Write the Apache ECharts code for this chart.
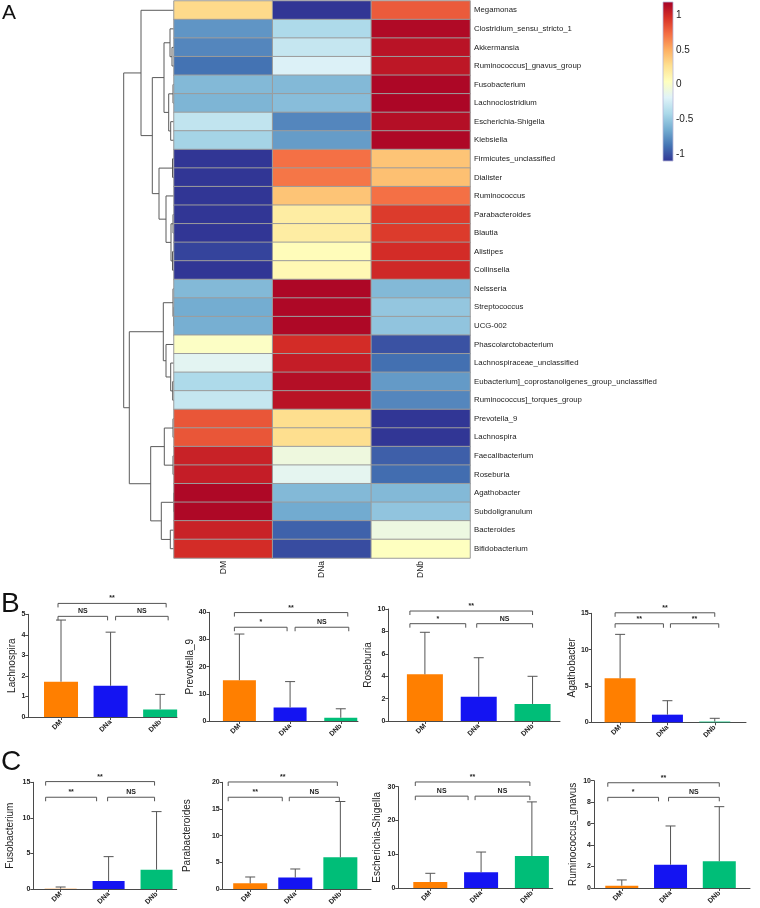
<!DOCTYPE html>
<html><head><meta charset="utf-8">
<script src="https://cdn.jsdelivr.net/npm/echarts@6/dist/echarts.min.js"></script>
<style>html,body{margin:0;padding:0;background:#fff}#c{width:760px;height:908px}</style>
</head><body><div id="c"></div>
<script>
// ---------- Panel A data ----------
const genera = ['Megamonas','Clostridium_sensu_stricto_1','Akkermansia','Ruminococcus]_gnavus_group','Fusobacterium','Lachnoclostridium','Escherichia-Shigella','Klebsiella','Firmicutes_unclassified','Dialister','Ruminococcus','Parabacteroides','Blautia','Alistipes','Collinsella','Neisseria','Streptococcus','UCG-002','Phascolarctobacterium','Lachnospiraceae_unclassified','Eubacterium]_coprostanoligenes_group_unclassified','Ruminococcus]_torques_group','Prevotella_9','Lachnospira','Faecalibacterium','Roseburia','Agathobacter','Subdoligranulum','Bacteroides','Bifidobacterium'];
const groups = ['DM','DNa','DNb'];
const zDM  = [0.30,-0.74,-0.80,-0.88,-0.58,-0.60,-0.32,-0.44,-1.12,-1.12,-1.12,-1.10,-1.10,-1.05,-1.10,-0.58,-0.64,-0.63,0.02,-0.16,-0.40,-0.30,0.82,0.82,1.03,1.05,1.15,1.15,1.03,0.98];
const zDNa = [-1.10,-0.40,-0.30,-0.20,-0.58,-0.56,-0.80,-0.71,0.72,0.70,0.40,0.18,0.18,0.07,0.10,1.155,1.15,1.15,0.98,1.05,1.12,1.10,0.28,0.28,-0.08,-0.15,-0.58,-0.65,-0.94,-1.02];
const zDNb = [0.80,1.14,1.10,1.08,1.155,1.16,1.12,1.15,0.40,0.42,0.72,0.92,0.92,0.98,1.00,-0.58,-0.51,-0.52,-1.00,-0.89,-0.72,-0.80,-1.10,-1.10,-0.95,-0.90,-0.58,-0.52,-0.09,0.04];
const zMin = -1.1, zMax = 1.19;
const colorbarTicks = [-1,-0.5,0,0.5,1];
// hclust-style merges: negative = leaf row (-(row+1)), positive = earlier merge (1-based); third = height
const dendroMerges = [
 [-3,-4,2],[-2,1,4],[-5,-6,1],[-7,-8,3.3],[3,4,5.3],[2,5,10],
 [-9,-10,1.5],[-12,-13,1],[-14,-15,1.5],[8,9,3],[-11,10,8],[7,11,15],
 [6,12,21.7],[-1,13,33],
 [-17,-18,0.5],[-16,15,1],[-21,-22,1.3],[-20,17,3.3],[-19,18,8],[16,19,10.7],
 [-23,-24,1],[-25,-26,1],[21,22,9.7],[-27,-28,0.5],[-29,-30,3.7],[24,25,12.7],
 [23,26,23.3],[20,27,44.7],[14,28,50.3]
];

// ---------- Panels B / C data ----------
const barTitles = ['Lachnospira','Prevotella_9','Roseburia','Agathobacter','Fusobacterium','Parabacteroides','Escherichia-Shigella','Ruminococcus_gnavus'];
const meanDM  = [1.72,15.0,4.17,6.05,0.05,1.06,1.78,0.21];
const meanDNa = [1.52,5.0,2.17,1.05,1.12,2.15,4.64,2.17];
const meanDNb = [0.37,1.2,1.52,0.10,2.72,5.94,9.47,2.49];
const upperDM  = [4.72,32.0,7.92,12.1,0.28,2.25,4.35,0.75];
const upperDNa = [4.13,14.5,5.65,2.97,4.55,3.75,10.65,5.78];
const upperDNb = [1.10,4.5,3.99,0.55,10.88,16.4,25.5,7.58];
const yMax  = [5,40,10,15,15,20,30,10];
const yStep = [1,10,2,5,5,5,10,2];
const sigOuter = ['**','**','**','**','**','**','**','**'];
const sigLeft  = ['NS','*','*','**','**','**','NS','*'];
const sigRight = ['NS','NS','NS','**','NS','NS','NS','NS'];
const bracketTop = [5.53,39.9,9.82,15.07,15.1,20.06,31.4,9.81];
const bracketLow = [4.9,34.5,8.69,13.56,12.9,17.2,27.2,8.45];

// ---------- layout / style ----------
const barColors = ['#FF7F00','#1414F2','#00BE78'];
const heatColors = ['#313695','#4575B4','#74ADD1','#ABD9E9','#E0F3F8','#FFFFBF','#FEE090','#FDAE61','#F46D43','#D73027','#A50026'];
const barLayout = [
 {l:28.3,w:148.7,t:614.3,h:102.7,xmin:-0.66,xmax:2.34,bw:34,gap:9.5,off:[-3,6,-3,5,8]},
 {l:209.5,w:148.5,t:612.3,h:108.7,xmin:-0.59,xmax:2.34,bw:33,gap:9,off:[-5,7,-3,5,8]},
 {l:388.3,w:171.7,t:609,h:112,xmin:-0.68,xmax:2.51,bw:36,gap:12,off:[-15,0,-13,-2,0]},
 {l:591.7,w:154.3,t:613.3,h:109,xmin:-0.6,xmax:2.66,bw:31,gap:14,off:[-5,0,-4,3,4]},
 {l:33.3,w:143.4,t:782.3,h:106.7,xmin:-0.57,xmax:2.42,bw:32,gap:18,off:[-15,-2,-12,-1,-2]},
 {l:222.7,w:148.3,t:782.3,h:106.7,xmin:-0.61,xmax:2.68,bw:34,gap:30,off:[-22,-3,-13,-6,-1]},
 {l:398.3,w:154.4,t:786.7,h:101.3,xmin:-0.63,xmax:2.41,bw:34,gap:16,off:[-15,-2,-13,-6,-2]},
 {l:594,w:156,t:780.7,h:107.3,xmin:-0.57,xmax:2.63,bw:33,gap:16,off:[-14,0,-12,-2,0]}
];
const FONT = 'Liberation Sans, Arial, sans-serif';

// dendrogram node positions
const nodes = [];
function nodeInfo(ref){ return ref < 0 ? {y: -ref-1, h: 0} : nodes[ref-1]; }
dendroMerges.forEach(m => { const a = nodeInfo(m[0]), b = nodeInfo(m[1]); nodes.push({y:(a.y+b.y)/2, h:m[2], a, b}); });
const dendroData = nodes.map(n => [n.a.h, n.a.y, n.b.h, n.b.y, n.h]);

const heatData = [];
genera.forEach((g, r) => { [zDM, zDNa, zDNb].forEach((arr, c) => heatData.push([c, r, arr[r]])); });

const grids = [
 {left:110, top:1, width:64, height:557},
 {left:174, top:1, width:296, height:557},
 {left:663, top:2, width:10, height:159}
];
const xAxes = [
 {gridIndex:0, type:'value', min:0, max:64, inverse:true, show:false},
 {gridIndex:1, type:'category', data:groups, axisLine:{show:false}, axisTick:{show:false},
  axisLabel:{rotate:90, fontSize:8.5, color:'#222', fontFamily:FONT, margin:3}},
 {gridIndex:2, type:'value', min:0, max:1, show:false}
];
const yAxes = [
 {gridIndex:0, type:'value', min:-0.5, max:29.5, inverse:true, show:false},
 {gridIndex:1, type:'category', data:genera, inverse:true, position:'right', axisLine:{show:false}, axisTick:{show:false},
  axisLabel:{fontSize:7.8, color:'#222', fontFamily:FONT, margin:4}},
 {gridIndex:2, type:'value', min:zMin, max:zMax, position:'right', axisLine:{show:false}, axisTick:{show:false}, splitLine:{show:false},
  axisLabel:{customValues:colorbarTicks, formatter:v=>String(v), fontSize:10, color:'#222', fontFamily:FONT, margin:3}}
];
const series = [
 {type:'custom', xAxisIndex:0, yAxisIndex:0, data:dendroData, clip:false, silent:true,
  renderItem:(p, api) => {
    const ah = api.value(0), ay = api.value(1), bh = api.value(2), by = api.value(3), h = api.value(4);
    const pts = [api.coord([ah, ay]), api.coord([h, ay]), api.coord([h, by]), api.coord([bh, by])];
    return {type:'polyline', shape:{points:pts}, style:{stroke:'#5a5a5a', lineWidth:1, fill:null}};
  }},
 {type:'heatmap', xAxisIndex:1, yAxisIndex:1, data:heatData, silent:true,
  itemStyle:{borderColor:'#9c9c9c', borderWidth:1}},
 {type:'custom', xAxisIndex:2, yAxisIndex:2, data:[[0, zMin, zMax]], clip:false, silent:true,
  renderItem:(p, api) => {
    const p1 = api.coord([0, api.value(2)]), p2 = api.coord([1, api.value(1)]);
    const stops = heatColors.map((c, i) => ({offset: i/(heatColors.length-1), color:c}));
    return {type:'rect', shape:{x:p1[0], y:p1[1], width:p2[0]-p1[0], height:p2[1]-p1[1]},
      style:{fill:new echarts.graphic.LinearGradient(0,1,0,0,stops), stroke:'#b8b8d8', lineWidth:0.8}};
  }}
];

barTitles.forEach((title, k) => {
  const L = barLayout[k];
  const gi = grids.length;
  grids.push({left:L.l, top:L.t, width:L.w, height:L.h});
  xAxes.push({gridIndex:gi, type:'value', min:L.xmin, max:L.xmax, splitLine:{show:false},
    axisLine:{show:true, onZero:false, lineStyle:{color:'#4a4a4a', width:1}},
    axisTick:{show:true, customValues:[0,1,2], length:3, lineStyle:{color:'#4a4a4a'}},
    axisLabel:{customValues:[0,1,2], formatter:v=>groups[v], rotate:45, fontSize:7, fontWeight:'bold', color:'#222', fontFamily:FONT, margin:4}});
  yAxes.push({gridIndex:gi, type:'value', min:0, max:yMax[k], interval:yStep[k], splitLine:{show:false},
    axisLine:{show:true, onZero:false, lineStyle:{color:'#4a4a4a', width:1}},
    axisTick:{show:true, length:3, lineStyle:{color:'#4a4a4a'}},
    axisLabel:{fontSize:7, fontWeight:'bold', color:'#222', fontFamily:FONT, margin:3},
    name:title, nameLocation:'middle', nameGap:L.gap, nameTextStyle:{fontSize:10, color:'#222', fontFamily:FONT}});
  const means = [meanDM[k], meanDNa[k], meanDNb[k]];
  const ups = [upperDM[k], upperDNa[k], upperDNb[k]];
  series.push({type:'bar', xAxisIndex:gi, yAxisIndex:gi, barWidth:L.bw, silent:true,
    data: means.map((m, i) => ({value:[i, m], itemStyle:{color:barColors[i]}}))});
  series.push({type:'custom', xAxisIndex:gi, yAxisIndex:gi, clip:false, silent:true, z:3,
    data: means.map((m, i) => [i, m, ups[i]]),
    renderItem:(p, api) => {
      const a = api.coord([api.value(0), api.value(1)]), b = api.coord([api.value(0), api.value(2)]);
      return {type:'group', children:[
        {type:'line', shape:{x1:a[0], y1:a[1], x2:b[0], y2:b[1]}, style:{stroke:'#555', lineWidth:1}},
        {type:'line', shape:{x1:b[0]-5, y1:b[1], x2:b[0]+5, y2:b[1]}, style:{stroke:'#555', lineWidth:1}}
      ]};
    }});
  const o = L.off;
  const br = [[0,2,bracketTop[k],sigOuter[k],o[0],o[1]],[0,1,bracketLow[k],sigLeft[k],o[0],o[2]],[1,2,bracketLow[k],sigRight[k],o[3],o[4]]];
  series.push({type:'custom', xAxisIndex:gi, yAxisIndex:gi, clip:false, silent:true,
    data: br.map(b => [b[0], b[1], b[2]]),
    renderItem:(p, api) => {
      const d = br[p.dataIndex];
      const a = api.coord([api.value(0), api.value(2)]), b = api.coord([api.value(1), api.value(2)]);
      const x1 = a[0] + d[4], x2 = b[0] + d[5], y = a[1];
      return {type:'group', children:[
        {type:'polyline', shape:{points:[[x1, y+4],[x1, y],[x2, y],[x2, y+4]]}, style:{stroke:'#555', lineWidth:1, fill:null}},
        {type:'text', style:{text:d[3], x:(x1+x2)/2, y:y-1.5, align:'center', verticalAlign:'bottom', fontSize:7, fontWeight:'bold', fontFamily:FONT, fill:'#222'}}
      ]};
    }});
});

const chart = echarts.init(document.getElementById('c'), null, {renderer:'canvas'});
chart.setOption({
  animation:false,
  backgroundColor:'#fff',
  grid:grids, xAxis:xAxes, yAxis:yAxes,
  visualMap:{show:false, seriesIndex:1, min:zMin, max:zMax, inRange:{color:heatColors}},
  graphic:[
    {type:'text', left:2, top:3, style:{text:'A', fontSize:21, fontFamily:FONT, fill:'#111'}},
    {type:'text', left:1, top:590, style:{text:'B', fontSize:28, fontFamily:FONT, fill:'#111'}},
    {type:'text', left:1, top:748, style:{text:'C', fontSize:28, fontFamily:FONT, fill:'#111'}}
  ],
  series:series
});
</script></body></html>
